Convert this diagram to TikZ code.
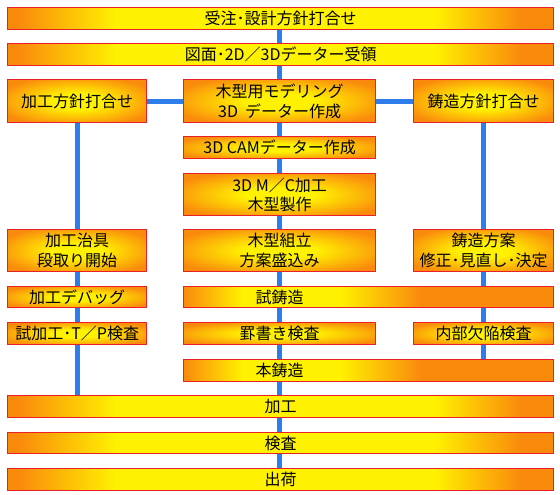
\documentclass[tikz,border=0pt]{standalone}
\usepackage{fontspec}
\setmainfont{Noto Sans CJK JP}
\usetikzlibrary{backgrounds}

\definecolor{boxorange}{RGB}{250,138,12}
\definecolor{boxyellow}{RGB}{255,242,0}
\definecolor{boxred}{RGB}{232,32,40}
\definecolor{flowblue}{RGB}{45,125,235}

\pgfdeclarehorizontalshading{barglow}{100bp}{color(0bp)=(boxorange); color(26bp)=(boxorange);
  color(35bp)=(boxyellow); color(64bp)=(boxyellow); color(72bp)=(boxorange); color(100bp)=(boxorange)}
\pgfdeclarehorizontalshading{castglow}{100bp}{color(0bp)=(boxorange); color(25bp)=(boxorange);
  color(33bp)=(boxyellow); color(46bp)=(boxyellow); color(57bp)=(boxorange); color(100bp)=(boxorange)}
\pgfdeclareradialshading{boxglow}{\pgfpoint{0bp}{0bp}}{color(0bp)=(boxyellow); color(9bp)=(boxyellow);
  color(30bp)=(boxorange); color(50bp)=(boxorange)}

\begin{document}
\begin{tikzpicture}[x=1pt,y=-1pt,line cap=round,line join=round,
    stepbox/.style={shade,shading=boxglow,draw=boxred,line width=1.3pt,anchor=north west,
      inner sep=0pt,align=center,font=\fontsize{16}{19.5}\selectfont},
    barbox/.style={stepbox,shading=barglow},
    castbar/.style={stepbox,shading=castglow},
    flow/.style={draw=flowblue,line width=5pt,line cap=butt}]
  \useasboundingbox (0,0) rectangle (560,495);
  \node[barbox,minimum width=546pt,minimum height=22pt] (order) at (7,7) {受注･設計方針打合せ};
  \node[barbox,minimum width=546pt,minimum height=22pt] (drawing) at (7,43) {図面･2D／3Dデーター受領};
  \node[stepbox,minimum width=139pt,minimum height=43pt] (mach) at (7,79) {加工方針打合せ};
  \node[stepbox,minimum width=192pt,minimum height=43pt] (mdl) at (183,79) {木型用モデリング\\3D\ \ データー作成};
  \node[stepbox,minimum width=140pt,minimum height=43pt] (cast) at (413,79) {鋳造方針打合せ};
  \node[stepbox,minimum width=192pt,minimum height=22pt] (cam) at (183,136) {3D CAMデーター作成};
  \node[stepbox,minimum width=192pt,minimum height=42pt] (mc) at (183,173) {3D M／C加工\\木型製作};
  \node[stepbox,minimum width=139pt,minimum height=42pt] (jig) at (7,229) {加工治具\\段取り開始};
  \node[stepbox,minimum width=192pt,minimum height=42pt] (asm) at (183,229) {木型組立\\方案盛込み};
  \node[stepbox,minimum width=140pt,minimum height=42pt] (plan) at (413,229) {鋳造方案\\修正･見直し･決定};
  \node[stepbox,minimum width=139pt,minimum height=21pt] (debug) at (7,286) {加工デバッグ};
  \node[castbar,minimum width=370pt,minimum height=21pt] (trial) at (183,286) {};
  \node[font=\fontsize{16}{19.5}\selectfont,inner sep=0pt] (trialtxt) at (trial -| mdl) {試鋳造};
  \node[stepbox,minimum width=139pt,minimum height=22pt] (tp) at (7,322) {試加工･T／P検査};
  \node[stepbox,minimum width=192pt,minimum height=22pt] (mark) at (183,322) {罫書き検査};
  \node[stepbox,minimum width=140pt,minimum height=22pt] (defect) at (413,322) {内部欠陥検査};
  \node[castbar,minimum width=370pt,minimum height=22pt] (main) at (183,359) {};
  \node[font=\fontsize{16}{19.5}\selectfont,inner sep=0pt] (maintxt) at (main -| mdl) {本鋳造};
  \node[barbox,minimum width=546pt,minimum height=22pt] (work) at (7,395) {加工};
  \node[barbox,minimum width=546pt,minimum height=21pt] (insp) at (7,432) {検査};
  \node[barbox,minimum width=546pt,minimum height=22pt] (ship) at (7,468) {出荷};
  \begin{scope}[on background layer]
    \draw[flow] (order -| mdl) -- (ship -| mdl);
    \draw[flow] (mach) -- (mach |- work);
    \draw[flow] (cast) -- (cast |- main);
    \draw[flow] (mach) -- (cast);
  \end{scope}
\end{tikzpicture}
\end{document}
